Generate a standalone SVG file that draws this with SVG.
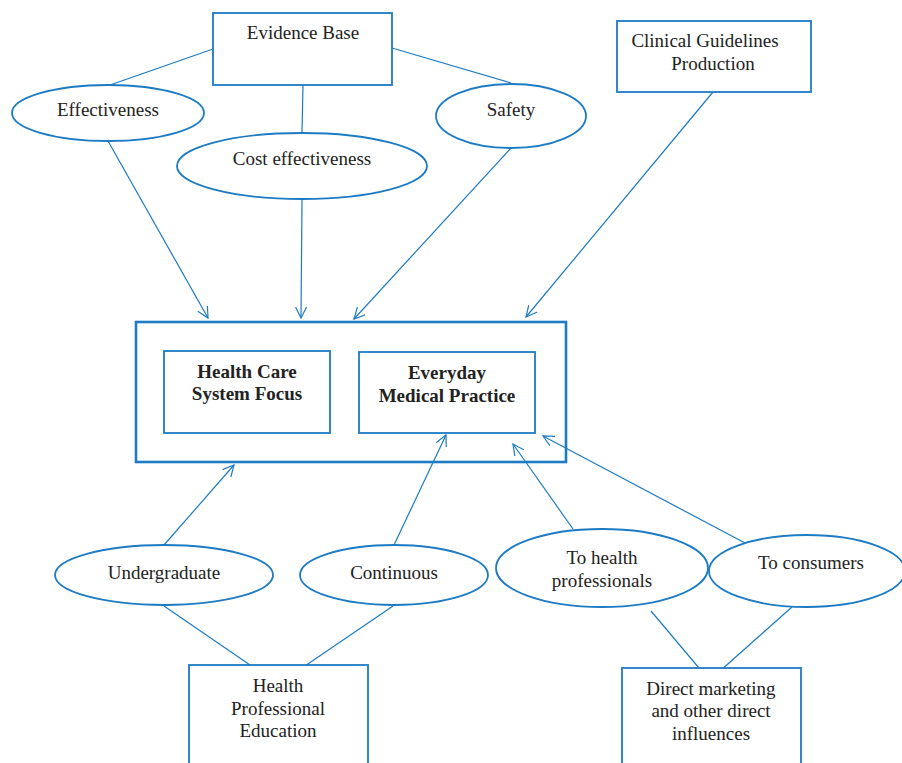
<svg xmlns="http://www.w3.org/2000/svg" width="902" height="763" viewBox="0 0 902 763">
<style>
.n{fill:#fff;stroke:#1d7bc3;stroke-width:1.8}
.o{fill:none;stroke:#1d7bc3;stroke-width:2.6}
.c line{stroke:#1d7bc3;stroke-width:1.2}
.a{marker-end:url(#arr)}
text{font-family:"Liberation Serif","DejaVu Serif",serif;font-size:19px;fill:#222;text-anchor:middle}
.b{font-weight:bold;font-size:19px}
</style>
<defs>
<marker id="arr" viewBox="0 0 12 12" refX="11" refY="6" markerWidth="12" markerHeight="12" markerUnits="userSpaceOnUse" orient="auto">
<path d="M0,0.5 L11,6 L0,11.5" fill="none" stroke="#1d7bc3" stroke-width="1.2"/>
</marker>
</defs>
<g class="c" id="connectors">
<line x1="213" y1="49" x2="110" y2="85"/>
<line x1="392" y1="48" x2="511" y2="83"/>
<line x1="303" y1="85" x2="302" y2="132"/>
<line class="a" x1="108" y1="141" x2="208" y2="318"/>
<line class="a" x1="302" y1="199" x2="301" y2="318"/>
<line class="a" x1="511" y1="148" x2="354" y2="319"/>
<line class="a" x1="713" y1="92" x2="526" y2="317"/>
<line class="a" x1="164" y1="545" x2="234" y2="465"/>
<line class="a" x1="394" y1="545" x2="446" y2="435"/>
<line class="a" x1="573" y1="529" x2="513" y2="444"/>
<line class="a" x1="745" y1="543" x2="543" y2="436"/>
<line x1="164" y1="606" x2="250" y2="665"/>
<line x1="393" y1="606" x2="302" y2="668"/>
<line x1="651" y1="611" x2="699" y2="668"/>
<line x1="792" y1="607" x2="720" y2="671"/>
</g>
<g id="evidence-base"><rect class="n" x="213" y="13" width="179" height="72"/><text x="303" y="39">Evidence Base</text></g>
<g id="effectiveness"><ellipse class="n" cx="108" cy="113" rx="96" ry="28"/><text x="108" y="116">Effectiveness</text></g>
<g id="cost-effectiveness"><ellipse class="n" cx="302" cy="166" rx="125" ry="33"/><text x="302" y="165">Cost effectiveness</text></g>
<g id="safety"><ellipse class="n" cx="511" cy="116" rx="75" ry="32"/><text x="511" y="116">Safety</text></g>
<g id="clinical-guidelines"><rect class="n" x="617" y="21" width="194" height="71"/><text x="705" y="47">Clinical Guidelines</text><text x="713" y="70">Production</text></g>
<g id="practice-frame"><rect class="o" x="136" y="322" width="430" height="140"/></g>
<g id="health-care-system-focus"><rect class="n" x="164" y="351" width="166" height="82"/><text class="b" x="247" y="378">Health Care</text><text class="b" x="247" y="400">System Focus</text></g>
<g id="everyday-medical-practice"><rect class="n" x="359" y="352" width="176" height="81"/><text class="b" x="447" y="379">Everyday</text><text class="b" x="447" y="402">Medical Practice</text></g>
<g id="undergraduate"><ellipse class="n" cx="164" cy="575" rx="109" ry="30"/><text x="164" y="579">Undergraduate</text></g>
<g id="continuous"><ellipse class="n" cx="394" cy="575" rx="94" ry="30"/><text x="394" y="579">Continuous</text></g>
<g id="to-health-professionals"><ellipse class="n" cx="602" cy="568" rx="106" ry="39"/><text x="602" y="564">To health</text><text x="602" y="587">professionals</text></g>
<g id="to-consumers"><ellipse class="n" cx="807" cy="571" rx="98" ry="36"/><text x="811" y="569">To consumers</text></g>
<g id="health-professional-education"><rect class="n" x="189" y="665" width="179" height="110"/><text x="278" y="692">Health</text><text x="278" y="715">Professional</text><text x="278" y="737">Education</text></g>
<g id="direct-marketing"><rect class="n" x="622" y="668" width="179" height="110"/><text x="711" y="695">Direct marketing</text><text x="711" y="717">and other direct</text><text x="711" y="740">influences</text></g>
</svg>
